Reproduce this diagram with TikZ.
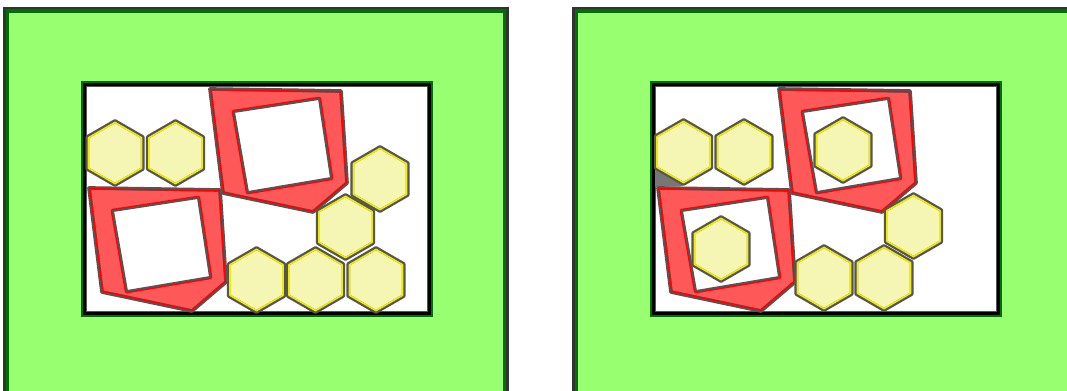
\documentclass[tikz,border=0pt]{standalone}
\definecolor{lawn}{RGB}{152,255,112}
\definecolor{lawnedge}{RGB}{0,112,0}
\definecolor{framered}{RGB}{255,88,88}
\definecolor{hexfill}{RGB}{245,245,180}
\definecolor{hexyellow}{RGB}{240,235,0}
\definecolor{outline}{RGB}{85,85,85}
\tikzset{
  panelrim/.style={draw=black!80, line width=1.4pt},
  panel/.style={fill=lawn, draw=lawnedge, line width=2.2pt},
  trayedge/.style={draw=lawnedge, line width=1.3pt},
  tray/.style={fill=white, draw=black, line width=2.2pt},
  trayinner/.style={draw=outline, line width=0.6pt},
  framebody/.style={fill=framered, draw=outline, line width=2.1pt, line join=round},
  framerim/.style={draw=red, line width=1.7pt, line join=round},
  holerim/.style={draw=red, line width=2.6pt, line join=round},
  holebody/.style={fill=white, draw=outline, line width=1.1pt, line join=round},
  hexbody/.style={fill=hexfill, draw=outline, line width=2.1pt, line join=round},
  hexrim/.style={draw=hexyellow, line width=0.9pt, line join=round}
}
% one hexagon cell, pointy top, centre given
\newcommand\hexcell[2]{%
  \filldraw[hexbody] (#1,#2) +(90:32) -- +(150:32) -- +(210:32) -- +(270:32) -- +(330:32) -- +(30:32) -- cycle;
  \draw[hexrim] (#1,#2) +(90:30.6) -- +(150:30.6) -- +(210:30.6) -- +(270:30.6) -- +(330:30.6) -- +(30:30.6) -- cycle;}
% red frame with a square hole, shifted from the upper one
\newcommand\redframe[2]{%
  \begin{scope}[shift={(#1,#2)}]
    \filldraw[framebody] (210,89) -- (341,91) -- (347,183) -- (313,212) -- (223,193) -- cycle;
    \begin{scope}
      \clip (210,89) -- (341,91) -- (347,183) -- (313,212) -- (223,193) -- cycle;
      \draw[framerim] (210,89) -- (341,91) -- (347,183) -- (313,212) -- (223,193) -- cycle;
    \end{scope}
    \draw[holerim] (234,112) -- (319,99) -- (331,178) -- (248,192) -- cycle;
    \filldraw[holebody] (234,112) -- (319,99) -- (331,178) -- (248,192) -- cycle;
  \end{scope}}
% green panel with its white tray
\newcommand\greenpanel{%
  \draw[panelrim] (4.5,8) rectangle (507.5,400);
  \filldraw[panel] (7.5,11) rectangle (504.5,397);
  \filldraw[tray] (84,84) rectangle (430,314);
  \draw[trayedge] (82.3,82.3) rectangle (431.7,315.7);
  \draw[trayinner] (86.5,86.5) rectangle (427.5,311.5);}
\begin{document}
\begin{tikzpicture}[x=0.02cm, y=-0.02cm]
\useasboundingbox (0,0) rectangle (1067,391);
\clip (0,0) rectangle (1067,391);
% left: cells beside the frames
\greenpanel
\redframe{0}{0}
\redframe{-121}{99}
\foreach \hx/\hy in {115/153, 175.5/153, 380/179, 345.5/227, 256.5/280, 315.5/280, 376/280}
  \hexcell{\hx}{\hy};
% right: two cells placed in the holes
\begin{scope}[shift={(569,0)}]
  \greenpanel
  \fill[outline!80] (86,166) -- (86,187) -- (114,186) -- cycle;
  \redframe{0}{0}
  \redframe{-121}{99}
  \foreach \hx/\hy in {114.5/152, 175/152, 274/150, 152/249, 344.5/226, 255/278, 315/278}
    \hexcell{\hx}{\hy};
\end{scope}
\end{tikzpicture}
\end{document}
